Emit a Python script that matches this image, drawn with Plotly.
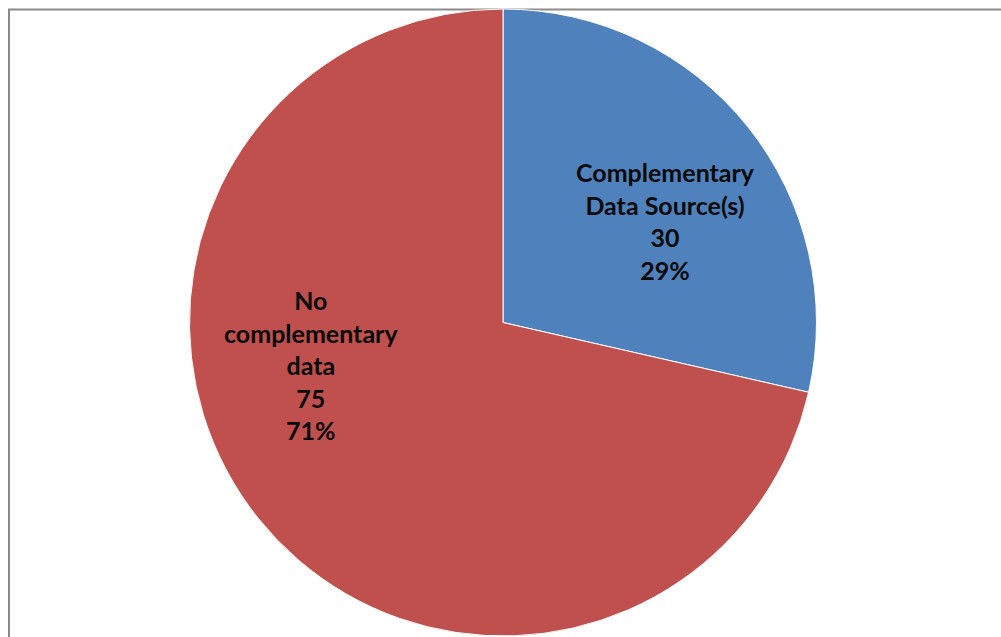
import plotly.graph_objects as go

# Data
categories = ["Complementary<br>Data Source(s)", "No<br>complementary<br>data"]
counts = [30, 75]
colors = ["#4F81BD", "#C0504D"]

W, H = 1001, 637
total = sum(counts)

fig = go.Figure()
fig.add_trace(go.Pie(
    labels=categories,
    values=counts,
    sort=False,
    direction="clockwise",
    rotation=0,
    marker=dict(colors=colors, line=dict(color="#FFFFFF", width=1)),
    textinfo="none",
    hoverinfo="label+value+percent",
    showlegend=False,
    domain=dict(x=[189 / W, 817 / W], y=[1 / H, (H - 9) / H]),
))

# Data labels: category, count and percentage
label_pos = [(665, 221), (311, 365)]
for cat, n, (px, py) in zip(categories, counts, label_pos):
    pct = round(100 * n / total)
    fig.add_annotation(
        x=px / W, y=1 - py / H, xref="paper", yref="paper",
        xanchor="center", yanchor="middle", showarrow=False,
        text=f"<b>{cat}<br>{n}<br>{pct}%</b>",
        font=dict(family="Lato", size=25, color="#0A0A0A"),
        align="center",
    )

# Chart-area frame
fig.add_shape(
    type="rect", xref="paper", yref="paper",
    x0=9 / W, x1=1.05, y0=-0.05, y1=1 - 9.5 / H,
    line=dict(color="#8A8A8A", width=2), layer="below",
)

fig.update_layout(
    width=W, height=H,
    margin=dict(l=0, r=0, t=0, b=0),
    paper_bgcolor="#FFFFFF",
    plot_bgcolor="#FFFFFF",
)

fig.write_html("out.html")
